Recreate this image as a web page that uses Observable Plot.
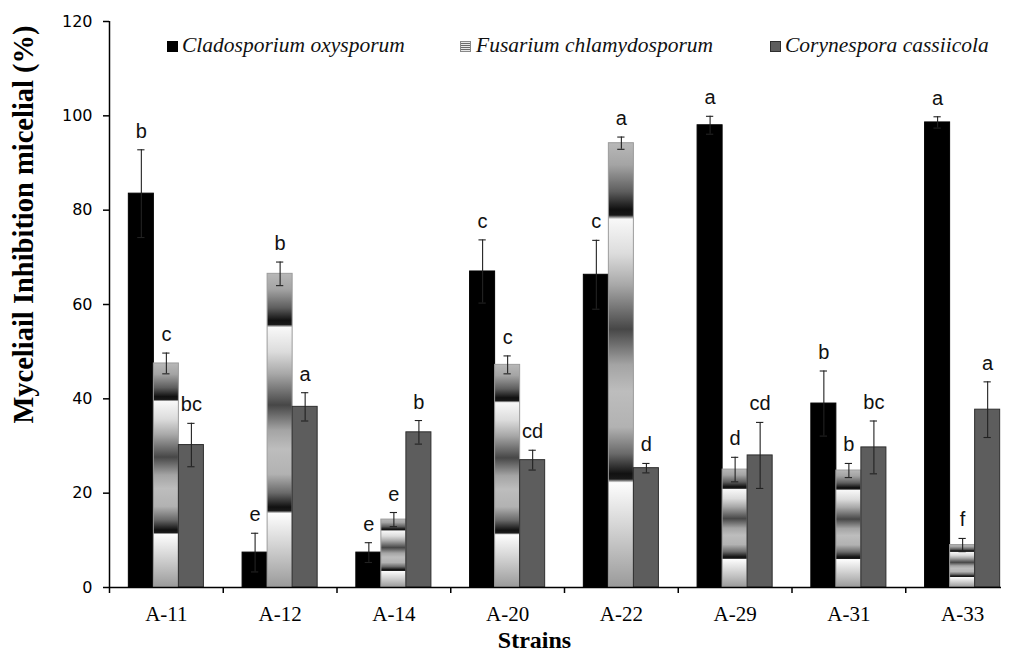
<!DOCTYPE html>
<html><head><meta charset="utf-8">
<script src="https://cdn.jsdelivr.net/npm/d3@7"></script>
<script src="https://cdn.jsdelivr.net/npm/@observablehq/plot@0.6"></script>
<style>
html,body{margin:0;padding:0;background:#fff;width:1009px;height:653px;overflow:hidden}
#wrap{position:relative;width:1009px;height:653px}
.leg{position:absolute;top:35px;font-family:"Liberation Serif",serif;font-style:italic;font-size:21.5px;line-height:21.5px;white-space:nowrap;color:#111}
.sw{position:absolute;top:41px;width:11px;height:11px;box-sizing:border-box}
</style></head><body>
<svg width="0" height="0" style="position:absolute">
  <defs>
    <linearGradient id="fusGrad" x1="0" y1="0" x2="0" y2="1">
      <stop offset="0" stop-color="#b8b8b8"/>
      <stop offset="0.05" stop-color="#a4a4a4"/>
      <stop offset="0.11" stop-color="#5e5e5e"/>
      <stop offset="0.15" stop-color="#111"/>
      <stop offset="0.163" stop-color="#181818"/>
      <stop offset="0.172" stop-color="#f8f8f8"/>
      <stop offset="0.25" stop-color="#dcdcdc"/>
      <stop offset="0.32" stop-color="#a8a8a8"/>
      <stop offset="0.42" stop-color="#474747"/>
      <stop offset="0.50" stop-color="#a4a4a4"/>
      <stop offset="0.56" stop-color="#bdbdbd"/>
      <stop offset="0.64" stop-color="#b2b2b2"/>
      <stop offset="0.70" stop-color="#6a6a6a"/>
      <stop offset="0.745" stop-color="#111"/>
      <stop offset="0.757" stop-color="#1a1a1a"/>
      <stop offset="0.765" stop-color="#fdfdfd"/>
      <stop offset="0.86" stop-color="#d6d6d6"/>
      <stop offset="1" stop-color="#9a9a9a"/>
    </linearGradient>
  </defs>
</svg>
<div id="wrap"></div>
<script>
// ---- data ----
const strains = ["A-11","A-12","A-14","A-20","A-22","A-29","A-31","A-33"];
const species = ["Cladosporium oxysporum","Fusarium chlamydosporum","Corynespora cassiicola"];
const clado = [83.5, 7.4, 7.4, 67.0, 66.3, 98.0, 39.0, 98.6];
const cladoErr = [9.3, 4.1, 2.1, 6.7, 7.3, 1.9, 6.9, 1.2];
const cladoLetters = ["b","e","e","c","c","a","b","a"];
const fus = [47.5, 66.5, 14.4, 47.2, 94.2, 25.0, 24.8, 9.0];
const fusErr = [2.2, 2.5, 1.5, 1.9, 1.3, 2.6, 1.5, 1.4];
const fusLetters = ["c","b","e","c","a","d","b","f"];
const cor = [30.2, 38.3, 32.9, 27.0, 25.3, 28.0, 29.7, 37.7];
const corErr = [4.6, 3.0, 2.5, 2.1, 1.0, 7.0, 5.6, 5.9];
const corLetters = ["bc","a","b","cd","d","cd","bc","a"];
const yTicks = [0, 20, 40, 60, 80, 100, 120];
const yTitle = "Myceliail Inhibition micelial (%)";
const xTitle = "Strains";

// ---- styling / layout ----
const fills = ["#000000", "url(#fusGrad)", "#5d5d5d"];
const strokes = ["#000000", "#9c9c9c", "#2e2e2e"];
const bw = 0.22, pad = (1 - 3 * bw) / 2, capHalf = 0.032;

const values = [clado, fus, cor], errs = [cladoErr, fusErr, corErr], letters = [cladoLetters, fusLetters, corLetters];
const rows = [];
species.forEach((sp, j) => strains.forEach((s, i) => rows.push({
  strain: s, i, j, species: sp, value: values[j][i], err: errs[j][i], letter: letters[j][i]
})));
const x1 = d => d.i + pad + d.j * bw;
const x2 = d => x1(d) + bw;
const xc = d => x1(d) + bw / 2;

const barMarks = species.map((sp, j) => Plot.rectY(rows.filter(d => d.j === j), {
  x1, x2, y1: 0, y2: "value", fill: fills[j], stroke: strokes[j], strokeWidth: 1
}));

const chart = Plot.plot({
  width: 1001, height: 653,
  marginLeft: 109, marginRight: -18, marginTop: 21, marginBottom: 66,
  style: {fontFamily: "Liberation Sans", fontSize: "20px", color: "#000", background: "#fff", overflow: "hidden"},
  x: {domain: [0, strains.length]},
  y: {domain: [0, 120]},
  marks: [
    ...barMarks,
    Plot.ruleX(rows, {x: xc, y1: d => d.value - d.err, y2: d => d.value + d.err, stroke: "#222", strokeWidth: 1.1}),
    Plot.ruleY(rows, {y: d => d.value + d.err, x1: d => xc(d) - capHalf, x2: d => xc(d) + capHalf, stroke: "#222", strokeWidth: 1.1}),
    Plot.ruleY(rows, {y: d => d.value - d.err, x1: d => xc(d) - capHalf, x2: d => xc(d) + capHalf, stroke: "#222", strokeWidth: 1.1}),
    Plot.text(rows, {x: xc, y: d => d.value + d.err, text: "letter", dy: -12, lineAnchor: "bottom",
      fontFamily: "Liberation Sans", fontSize: 20, fill: "#111"}),
    Plot.ruleY([0], {stroke: "#000", strokeWidth: 1.5}),
    Plot.ruleX([0], {stroke: "#000", strokeWidth: 1.5}),
    Plot.axisY({ticks: yTicks, tickSize: 6, tickPadding: 11, label: null, fontFamily: "DejaVu Sans", fontSize: 16, strokeWidth: 1.5}),
    Plot.axisX({ticks: d3.range(0, strains.length + 1), tickSize: 6, tickFormat: () => "", label: null, strokeWidth: 1.5}),
    Plot.axisX({ticks: strains.map((s, i) => i + 0.5), tickFormat: v => strains[Math.floor(v)], tickSize: 0, tickPadding: 19,
      label: null, fontFamily: "Liberation Serif", fontSize: 21}),
    Plot.text([yTitle], {frameAnchor: "left", rotate: -90, dx: -77, dy: -80, textAnchor: "middle", lineAnchor: "bottom",
      fontFamily: "Liberation Serif", fontWeight: "bold", fontSize: 28.5}),
    Plot.text([xTitle], {frameAnchor: "bottom", dx: -30, dy: 60, textAnchor: "middle", lineAnchor: "bottom",
      fontFamily: "Liberation Serif", fontWeight: "bold", fontSize: 24})
  ]
});
const wrap = document.getElementById("wrap");
wrap.appendChild(chart);

// ---- legend ----
const legSwatch = [
  {left: 167, style: "background:#000;"},
  {left: 460, style: "background:repeating-linear-gradient(to bottom,#e8e8e8 0,#e8e8e8 1px,#6a6a6a 1px,#6a6a6a 2px);border:1px solid #888;"},
  {left: 770, style: "background:#5d5d5d;border:1px solid #2e2e2e;"}
];
const legText = [182, 476, 785];
species.forEach((sp, j) => {
  const sw = document.createElement("div");
  sw.className = "sw"; sw.style.cssText = `left:${legSwatch[j].left}px;` + legSwatch[j].style;
  wrap.appendChild(sw);
  const t = document.createElement("div");
  t.className = "leg"; t.style.left = legText[j] + "px"; t.textContent = sp;
  wrap.appendChild(t);
});
</script>
</body></html>
